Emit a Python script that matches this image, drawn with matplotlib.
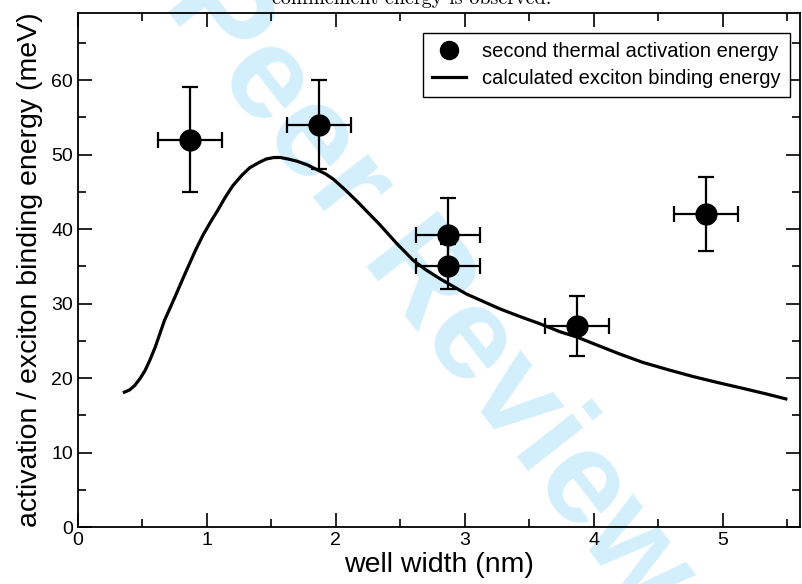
import matplotlib
matplotlib.use("Agg")
import matplotlib.pyplot as plt
from matplotlib.lines import Line2D
from matplotlib.ticker import MultipleLocator

# measured points: second thermal activation energy
well_w = [0.87, 1.87, 2.87, 2.87, 3.87, 4.87]
e_act = [52.0, 54.0, 39.2, 35.0, 27.0, 42.0]
e_act_err = [7.0, 6.0, 5.0, 3.0, 4.0, 5.0]
well_w_err = [0.25, 0.25, 0.25, 0.25, 0.25, 0.25]

# calculated exciton binding energy
calc_w = [0.36, 0.40, 0.44, 0.48, 0.52, 0.56, 0.60, 0.67, 0.75, 0.83, 0.91,
          0.97, 1.03, 1.08, 1.14, 1.20, 1.27, 1.33, 1.40, 1.46, 1.52, 1.57,
          1.63, 1.70, 1.78, 1.85, 1.92, 1.98, 2.07, 2.16, 2.25, 2.34, 2.47,
          2.60, 2.70, 2.81, 2.91, 3.01, 3.14, 3.27, 3.42, 3.58, 3.74, 3.87,
          4.00, 4.19, 4.38, 4.58, 4.77, 4.96, 5.16, 5.33, 5.49]
calc_e = [18.1, 18.4, 19.0, 19.9, 21.0, 22.5, 24.2, 27.7, 30.8, 34.0, 37.1,
          39.2, 41.0, 42.4, 44.2, 45.8, 47.2, 48.2, 48.9, 49.4, 49.6, 49.6,
          49.4, 49.1, 48.6, 48.0, 47.4, 46.7, 45.3, 43.8, 42.2, 40.6, 38.1,
          35.8, 34.5, 33.3, 32.3, 31.3, 30.3, 29.3, 28.3, 27.3, 26.2, 25.5,
          24.6, 23.3, 22.1, 21.1, 20.2, 19.4, 18.6, 17.9, 17.2]

plt.rcParams['font.family'] = ['Liberation Sans', 'DejaVu Sans']

fig = plt.figure(figsize=(8.03, 5.84), dpi=100)
ax = fig.add_axes([78/803, 57/584, 722/803, 514/584])
ax.set_facecolor('none')

# watermark behind the plot
fig.text(428/803, 1 - 290/584, 'Peer Review', fontsize=95, fontweight='bold',
         color='#d4effc', rotation=-52, ha='center', va='center',
         rotation_mode='anchor', zorder=-5)

# caption fragment cut by the top edge
fig.text(412/803, 1 - 4/584, 'confinement energy is observed.', fontsize=14.5,
         family='cmr10', ha='center', va='baseline')

ax.plot(calc_w, calc_e, color='black', lw=2.3, zorder=2)
ax.errorbar(well_w, e_act, yerr=e_act_err, xerr=well_w_err, fmt='o', color='black',
            ms=15, elinewidth=1.6, capsize=5.5, capthick=1.6, zorder=3)

ax.set_xlim(0, 5.6)
ax.set_ylim(0, 69)
ax.xaxis.set_major_locator(MultipleLocator(1))
ax.xaxis.set_minor_locator(MultipleLocator(0.5))
ax.yaxis.set_major_locator(MultipleLocator(10))
ax.yaxis.set_minor_locator(MultipleLocator(5))
ax.set_xticks([0, 1, 2, 3, 4, 5])
ax.tick_params(which='both', direction='in', top=True, right=True, width=1.2,
               labelsize=14)
ax.tick_params(which='major', length=10)
ax.tick_params(which='minor', length=5.5)
for s in ax.spines.values():
    s.set_linewidth(1.3)

ax.set_xlabel('well width (nm)', fontsize=20.5, labelpad=2)
ax.set_ylabel('activation / exciton binding energy (meV)', fontsize=20.5, labelpad=6)

h_pts = Line2D([], [], marker='o', ls='none', color='black', ms=13)
h_line = Line2D([], [], color='black', lw=2.3)
leg = ax.legend([h_pts, h_line],
                ['second thermal activation energy', 'calculated exciton binding energy'],
                loc='upper right',
                bbox_to_anchor=((790 - 78) / 722, (527 - 33) / 514),
                borderaxespad=0, fontsize=14.5, fancybox=False, framealpha=1,
                edgecolor='black', handlelength=1.7, handletextpad=0.8,
                borderpad=0.45, labelspacing=0.4)
leg.get_frame().set_linewidth(1.0)

fig.savefig('out.png', dpi=100)
